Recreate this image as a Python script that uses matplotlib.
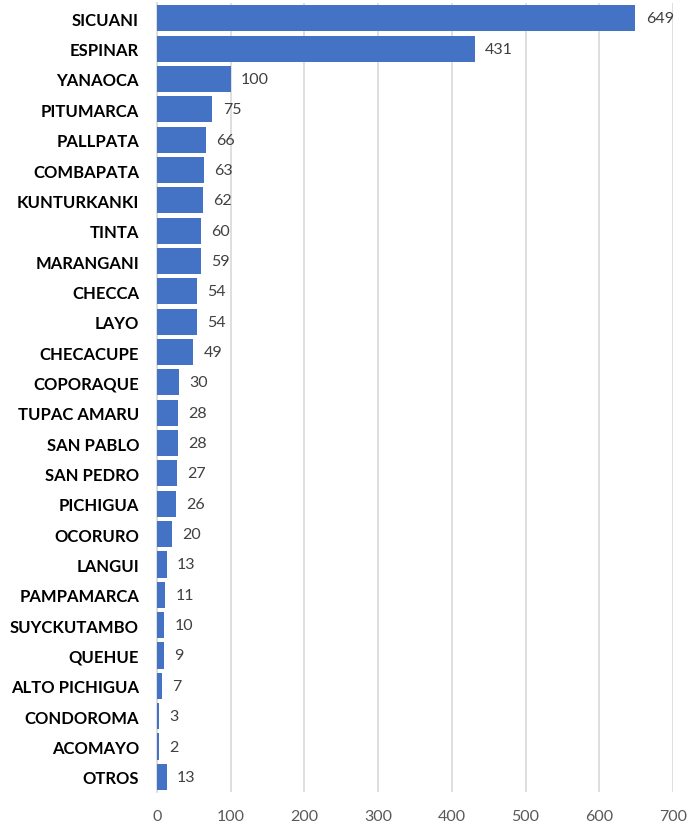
import matplotlib
matplotlib.use("Agg")
from matplotlib import pyplot as plt

districts = ["SICUANI", "ESPINAR", "YANAOCA", "PITUMARCA", "PALLPATA", "COMBAPATA",
             "KUNTURKANKI", "TINTA", "MARANGANI", "CHECCA", "LAYO", "CHECACUPE",
             "COPORAQUE", "TUPAC AMARU", "SAN PABLO", "SAN PEDRO", "PICHIGUA",
             "OCORURO", "LANGUI", "PAMPAMARCA", "SUYCKUTAMBO", "QUEHUE",
             "ALTO PICHIGUA", "CONDOROMA", "ACOMAYO", "OTROS"]
counts = [649, 431, 100, 75, 66, 63, 62, 60, 59, 54, 54, 49, 30, 28, 28, 27, 26,
          20, 13, 11, 10, 9, 7, 3, 2, 13]
x_ticks = [0, 100, 200, 300, 400, 500, 600, 700]

plt.rcParams['font.family'] = ['Lato', 'DejaVu Sans']

fig = plt.figure(figsize=(6.92, 8.29), dpi=100)
ax = fig.add_axes([0.227, 0.0434, 0.7455, 0.9516])

pos = list(range(len(districts)))
ax.barh(pos, counts, height=0.86, color="#4472C4", zorder=3)
for p, v in zip(pos, counts):
    ax.text(v + 14, p, str(v), va="center", ha="left", fontsize=11.5, color="#404040")

ax.set_ylim(len(districts) - 0.5, -0.5)
ax.set_xlim(0, 700)
ax.set_xticks(x_ticks)
ax.set_xticklabels([str(t) for t in x_ticks], fontsize=11.5, color="#595959")
ax.set_yticks(pos)
ax.set_yticklabels(districts, fontsize=12, fontweight="bold", color="black")
ax.tick_params(axis="both", length=0)
ax.tick_params(axis="x", pad=12)
ax.tick_params(axis="y", pad=13)
ax.grid(axis="x", color="#D9D9D9", linewidth=1.2, zorder=0)
for s in ["top", "right", "bottom"]:
    ax.spines[s].set_visible(False)
ax.spines["left"].set_color("#D9D9D9")
ax.spines["left"].set_linewidth(1.2)

fig.savefig("out.png", dpi=100)
